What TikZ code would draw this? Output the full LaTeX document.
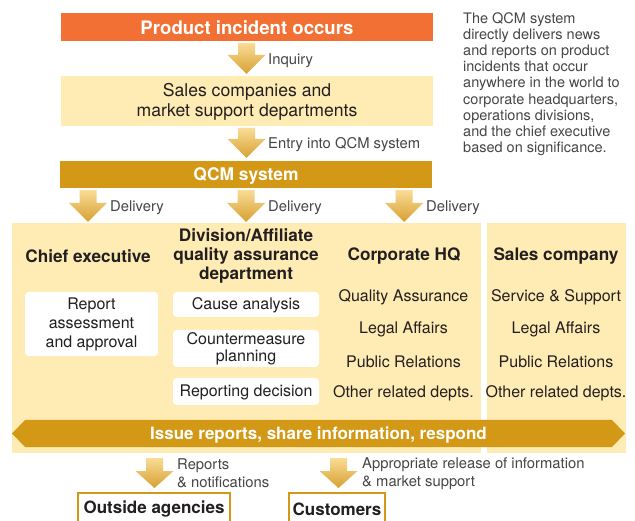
\documentclass[tikz,border=0pt]{standalone}
\usepackage{fontspec}
\setmainfont{TeX Gyre Heros}
\definecolor{incorange}{RGB}{242,112,52}
\definecolor{paleyel}{RGB}{255,236,180}
\definecolor{gold}{RGB}{211,152,22}
\definecolor{arrtop}{RGB}{250,220,150}
\definecolor{arrbot}{RGB}{215,160,50}
\definecolor{txt}{RGB}{35,31,32}
\definecolor{lbl}{RGB}{70,70,70}
\newcommand\garrow[4]{%
  \shade[top color=arrtop, bottom color=arrbot]
   ({#1-8.5},#2) -- ({#1+8.5},#2) -- ({#1+8.5},#3) -- ({#1+19},#3) -- (#1,#4)
   -- ({#1-19},#3) -- ({#1-8.5},#3) -- cycle;}
\tikzset{
  blk/.style={inner sep=0pt, outer sep=0pt, align=center},
  wbox/.style={blk, fill=white, rounded corners=4pt, text=txt,
     font=\fontsize{16}{18.8}\selectfont},
  hdr/.style={blk, text=txt, font=\bfseries\fontsize{17.2}{18.8}\selectfont},
  item/.style={blk, text=txt, font=\fontsize{16}{18}\selectfont},
  lab/.style={inner sep=0pt, anchor=west, align=left, text=lbl,
     font=\fontsize{14.8}{18}\selectfont},
  outbox/.style={blk, fill=white, draw=gold, line width=2.5pt, text=txt,
     font=\bfseries\fontsize{17}{19}\selectfont}
}
\begin{document}
\begin{tikzpicture}[x=1pt,y=-1pt]
\clip (0,0) rectangle (635,521);
\fill[white] (0,0) rectangle (635,521);

% top boxes
\node[blk, fill=incorange, minimum width=372pt, minimum height=28pt] (inc) at (247,27) {};
\node[blk, text=white, font=\bfseries\fontsize{18.6}{20}\selectfont] (inct) at (247,28) {Product incident occurs};
\node[blk, fill=paleyel, minimum width=372pt, minimum height=50pt] (sales) at (247,101) {};
\node[blk, text=txt, font=\fontsize{17.6}{19.5}\selectfont] (salest) at (247,102)
  {Sales companies and\\market support departments};
\node[blk, fill=gold, minimum width=372pt, minimum height=27pt] (qcm) at (246,174.5) {};
\node[blk, text=white, font=\bfseries\fontsize{17.4}{19}\selectfont] (qcmt) at (246,176) {QCM system};

% side text
\node[inner sep=0pt, anchor=north west, align=left, text=lbl,
  font=\fontsize{14.5}{16.1}\selectfont] (note) at (463,12.5)
  {The QCM system\\directly delivers news\\and reports on product\\incidents that occur\\anywhere in the world to\\corporate headquarters,\\operations divisions,\\and the chief executive\\based on significance.};

% arrows top
\garrow{246.5}{43}{55}{74}
\node[lab] (l1) at (268,61) {Inquiry};
\garrow{246.5}{128}{139}{158}
\node[lab] (l2) at (268,145) {Entry into QCM system};

% panels
\node[blk, fill=paleyel, minimum width=469pt, minimum height=230pt] (main) at (246.5,338) {};
\node[blk, fill=paleyel, minimum width=139pt, minimum height=230pt] (spanel) at (556.5,338) {};

% delivery arrows
\garrow{88}{190}{203}{222}
\garrow{246}{190}{203}{222}
\garrow{404}{190}{203}{222}
\node[lab] (d1) at (110,208) {Delivery};
\node[lab] (d2) at (268,208) {Delivery};
\node[lab] (d3) at (426,208) {Delivery};

% headers
\node[hdr] (h1) at (88,256) {Chief executive};
\node[hdr] (h2) at (246,256) {Division/Affiliate\\quality assurance\\department};
\node[hdr] (h3) at (404,256) {Corporate HQ};
\node[hdr] (h4) at (556,256) {Sales company};

% white boxes
\node[wbox, minimum width=133pt, minimum height=64pt] (rep) at (91.5,324) {};
\node[blk, text=txt, font=\fontsize{16}{18.8}\selectfont] (rept) at (91.5,324.5)
  {Report\\assessment\\and approval};
\node[wbox, minimum width=146pt, minimum height=25pt] (cause) at (246,304.5) {};
\node[blk, text=txt, font=\fontsize{16}{18.8}\selectfont] (causet) at (246,305.5) {Cause analysis};
\node[wbox, minimum width=146pt, minimum height=37pt] (counter) at (246,348.5) {};
\node[blk, text=txt, font=\fontsize{16}{16.5}\selectfont] (countert) at (246,349)
  {Countermeasure\\planning};
\node[wbox, minimum width=146pt, minimum height=27pt] (repdec) at (246,391.5) {};
\node[blk, text=txt, font=\fontsize{16}{18.8}\selectfont] (repdect) at (246,392.5) {Reporting decision};

% corporate HQ items
\node[item] (c1) at (403.5,297.5) {Quality Assurance};
\node[item] (c2) at (403.5,329.5) {Legal Affairs};
\node[item] (c3) at (403.5,361.5) {Public Relations};
\node[item] (c4) at (403.5,393.5) {Other related depts.};
\node[item] (s1) at (556,297.5) {Service \& Support};
\node[item] (s2) at (556,329.5) {Legal Affairs};
\node[item] (s3) at (556,361.5) {Public Relations};
\node[item] (s4) at (556,393.5) {Other related depts.};

% bar
\fill[gold] (12,433.5) -- (25,420) -- (612,420) -- (625,433.5) -- (612,447) -- (25,447) -- cycle;
\node[blk, text=white, font=\bfseries\fontsize{17}{19}\selectfont] (bar) at (318.5,435)
  {Issue reports, share information, respond};

% bottom arrows
\garrow{154.5}{458}{471}{488}
\garrow{338.5}{458}{471}{488}
\node[lab, font=\fontsize{14.8}{17.5}\selectfont] (b1) at (177,473.5) {Reports\\\& notifications};
\node[lab, font=\fontsize{14.8}{17.5}\selectfont] (b2) at (362,473.5) {Appropriate release of information\\\& market support};

% bottom boxes
\node[outbox, minimum width=152pt, minimum height=32pt] (outa) at (154,509) {};
\node[blk, text=txt, font=\bfseries\fontsize{17}{19}\selectfont] (outat) at (154,509) {Outside agencies};
\node[outbox, minimum width=96pt, minimum height=32pt] (cust) at (337,509) {};
\node[blk, text=txt, font=\bfseries\fontsize{17}{19}\selectfont] (custt) at (337,509) {Customers};
\end{tikzpicture}
\end{document}
